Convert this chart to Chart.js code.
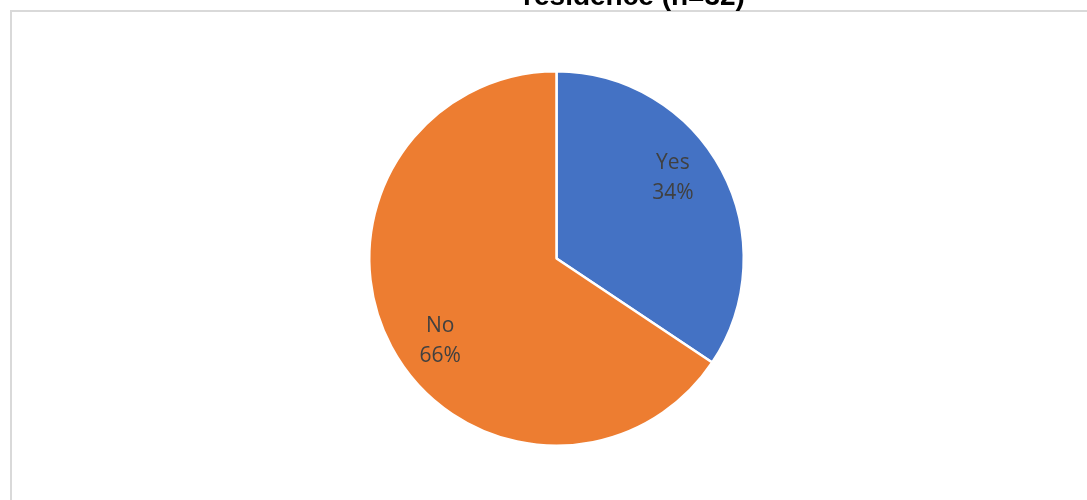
<!DOCTYPE html>
<html><head><meta charset="utf-8">
<script src="https://cdn.jsdelivr.net/npm/chart.js@4"></script>
<style>html,body{margin:0;padding:0;background:#fff;}#wrap{width:1087px;height:500px;position:relative;}</style>
</head><body><div id="wrap"><canvas id="c" width="1087" height="500"></canvas></div>
<script>
const titleText = "residence (n=32)";
const categories = ["Yes", "No"];
const counts = [11, 21];
const percentLabels = ["34%", "66%"];
const colors = ["#4472C4", "#ED7D31"];

const framePlugin = {
  id: 'frame',
  beforeDraw(chart) {
    const ctx = chart.ctx;
    ctx.save();
    ctx.fillStyle = '#fff';
    ctx.fillRect(0, 0, chart.width, chart.height);
    ctx.strokeStyle = '#d9d9d9';
    ctx.lineWidth = 2;
    ctx.beginPath();
    ctx.moveTo(11, chart.height + 2);
    ctx.lineTo(11, 11);
    ctx.lineTo(chart.width + 2, 11);
    ctx.stroke();
    ctx.fillStyle = '#000';
    ctx.font = 'bold 28px "Liberation Sans", Arial, sans-serif';
    ctx.textAlign = 'center';
    ctx.textBaseline = 'alphabetic';
    ctx.fillText(titleText, 634, 5);
    ctx.restore();
  }
};

const labelPlugin = {
  id: 'pieLabels',
  afterDatasetsDraw(chart) {
    const ctx = chart.ctx;
    const meta = chart.getDatasetMeta(0);
    ctx.save();
    ctx.fillStyle = '#404040';
    ctx.font = '21px "Open Sans", "Noto Sans", sans-serif';
    ctx.textAlign = 'center';
    ctx.textBaseline = 'middle';
    meta.data.forEach((arc, i) => {
      const a = (arc.startAngle + arc.endAngle) / 2 - 7 * Math.PI / 180;
      const r = arc.outerRadius * 0.76;
      const x = arc.x + Math.cos(a) * r;
      const y = arc.y + Math.sin(a) * r;
      ctx.fillText(categories[i], x, y - 14);
      ctx.fillText(percentLabels[i], x, y + 16);
    });
    ctx.restore();
  }
};

new Chart(document.getElementById('c'), {
  type: 'pie',
  data: {
    labels: categories,
    datasets: [{
      data: counts,
      backgroundColor: colors,
      borderColor: '#ffffff',
      borderWidth: 2.5
    }]
  },
  options: {
    responsive: false,
    animation: false,
    layout: { padding: { left: 368, right: 342, top: 70, bottom: 53 } },
    plugins: { legend: { display: false }, tooltip: { enabled: false }, title: { display: false } }
  },
  plugins: [framePlugin, labelPlugin]
});
</script></body></html>
